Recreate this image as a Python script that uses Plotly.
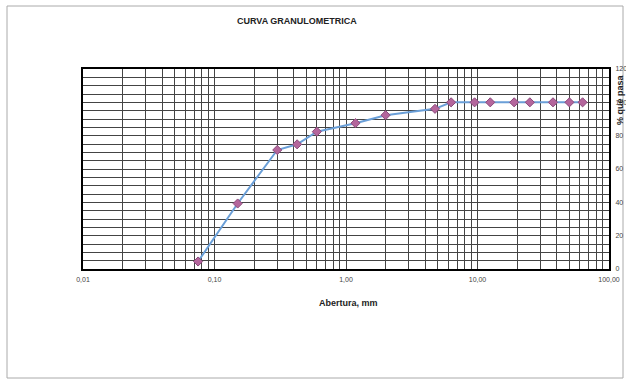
import plotly.graph_objects as go

# Data
aberturas_mm = [0.075, 0.15, 0.30, 0.425, 0.60, 1.18, 2.00, 4.75, 6.30, 9.50, 12.50, 19.00, 25.00, 37.50, 50.00, 63.00]
pct_pasa = [4.5, 39.3, 71.4, 74.8, 82.4, 87.5, 92.3, 96.1, 100, 100, 100, 100, 100, 100, 100, 100]

x_tickvals = [0.01, 0.1, 1, 10, 100]
x_ticktext = ["0,01", "0,10", "1,00", "10,00", "100,00"]
y_tickvals = [0, 20, 40, 60, 80, 100, 120]
y_ticktext = ["0", "20", "40", "60", "80", "100", "120"]

W, H = 626, 383
L, R, T, B = 83, 17, 69, 114
pw, ph = W - L - R, H - T - B


def px_x(px):
    return (px - L) / pw


def px_y(py):
    return ((H - B) - py) / ph


fig = go.Figure()
fig.add_trace(go.Scatter(
    x=aberturas_mm, y=pct_pasa, mode="lines+markers",
    line=dict(color="#6A9FD8", width=2),
    marker=dict(symbol="diamond", size=7, color="#B4669C",
                line=dict(color="#8B4A7C", width=1)),
    showlegend=False, cliponaxis=False,
))

grid_col = "#444444"
fig.update_layout(
    width=W, height=H,
    margin=dict(l=L, r=R, t=T, b=B, autoexpand=False),
    paper_bgcolor="white", plot_bgcolor="white",
    font=dict(family="Liberation Sans, Arial, sans-serif", color="#333"),
    xaxis=dict(
        type="log", range=[-2, 2], automargin=False,
        tickmode="array", tickvals=x_tickvals, ticktext=x_ticktext,
        tickfont=dict(size=7, color="#444"),
        showgrid=True, gridcolor=grid_col, gridwidth=1,
        minor=dict(dtick="D1", showgrid=True, gridcolor=grid_col, gridwidth=1, ticks=""),
        showline=True, linecolor="black", linewidth=2, mirror=True,
        ticks="", zeroline=False, ticklabelstandoff=3,
    ),
    yaxis=dict(
        range=[0, 120], side="right", automargin=False,
        tickmode="array", tickvals=y_tickvals, ticktext=y_ticktext,
        tickfont=dict(size=7, color="#444"),
        showgrid=True, gridcolor=grid_col, gridwidth=1,
        minor=dict(dtick=5, showgrid=True, gridcolor=grid_col, gridwidth=1, ticks=""),
        showline=True, linecolor="black", linewidth=2, mirror=True,
        ticks="", zeroline=False, ticklabelstandoff=3,
    ),
    annotations=[
        dict(text="<b>CURVA GRANULOMETRICA</b>", xref="paper", yref="paper",
             x=px_x(297), y=px_y(21),
             showarrow=False, font=dict(size=9, color="#222"), xanchor="center", yanchor="middle"),
        dict(text="<b>Abertura, mm</b>", xref="paper", yref="paper",
             x=px_x(348), y=px_y(303),
             showarrow=False, font=dict(size=9, color="#222"), xanchor="center", yanchor="middle"),
        dict(text="<b>% que pasa</b>", xref="paper", yref="paper", textangle=-90,
             x=px_x(620), y=px_y(100),
             showarrow=False, font=dict(size=9, color="#222"), xanchor="center", yanchor="middle"),
    ],
)

# outer page frame
fig.add_shape(type="rect", xref="paper", yref="paper",
              x0=px_x(7), x1=px_x(623), y0=px_y(378), y1=px_y(6),
              line=dict(color="#aaaaaa", width=1), layer="below")

fig.write_html("out.html", config={"displayModeBar": False},
               post_script="document.body.style.margin='0';document.body.style.overflow='hidden';")
